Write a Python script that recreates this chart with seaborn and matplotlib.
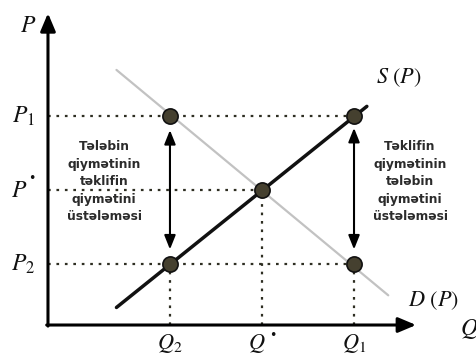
import matplotlib
matplotlib.use("Agg")
import matplotlib.pyplot as plt
import seaborn as sns
import pandas as pd

# ---- data ----
q_levels = {"Q2": 2.85, "Qstar": 5.0, "Q1": 7.15}
p_levels = {"P1": 7.75, "Pstar": 5.0, "P2": 2.25}

supply_q = [1.6, 7.45]
supply_p = [0.65, 8.1]
demand_q = [1.6, 7.95]
demand_p = [9.45, 1.1]

point_q = [2.85, 2.85, 5.0, 7.15, 7.15]
point_p = [7.75, 2.25, 5.0, 7.75, 2.25]

arrow_q = [2.85, 7.15]
arrow_top = [7.22, 7.3]
arrow_bottom = [2.8, 2.8]

left_text = "Tələbin\nqiymətinin\ntəklifin\nqiymətini\nüstələməsi"
right_text = "Təklifin\nqiymətinin\ntələbin\nqiymətini\nüstələməsi"

sns.set_theme(style="white")
plt.rcParams["mathtext.fontset"] = "stix"

fig = plt.figure(figsize=(4.76, 3.56), dpi=100)
ax = fig.add_axes([0, 0, 1, 1])
ax.set_xlim(-1.121, 10.0)
ax.set_ylim(-1.148, 12.04)
ax.axis("off")

dot_color = "#2e2e22"
dot_style = (0, (1.2, 2.6))

# dotted guide lines
Q2, Qs, Q1 = q_levels["Q2"], q_levels["Qstar"], q_levels["Q1"]
P1, Ps, P2 = p_levels["P1"], p_levels["Pstar"], p_levels["P2"]
ax.plot([0, Q1], [P1, P1], ls=dot_style, color=dot_color, lw=1.6)
ax.plot([0, Q1], [P2, P2], ls=dot_style, color=dot_color, lw=1.6)
ax.plot([0, Qs], [Ps, Ps], ls=dot_style, color=dot_color, lw=1.6)
ax.plot([Q2, Q2], [0, P2], ls=dot_style, color=dot_color, lw=1.6)
ax.plot([Qs, Qs], [0, Ps], ls=dot_style, color=dot_color, lw=1.6)
ax.plot([Q1, Q1], [0, P2], ls=dot_style, color=dot_color, lw=1.6)

# demand and supply curves
dem = pd.DataFrame({"q": demand_q, "p": demand_p})
sup = pd.DataFrame({"q": supply_q, "p": supply_p})
sns.lineplot(data=dem, x="q", y="p", ax=ax, color="#c2c2c2", lw=1.6, sort=False)
sns.lineplot(data=sup, x="q", y="p", ax=ax, color="#111111", lw=2.5, sort=False)

# axes with arrows
ax.annotate("", xy=(0, 11.55), xytext=(0, -0.04),
            arrowprops=dict(arrowstyle="-|>,head_length=0.9,head_width=0.38",
                            color="black", lw=2.2, shrinkA=0, shrinkB=0))
ax.annotate("", xy=(8.6, 0), xytext=(-0.03, 0),
            arrowprops=dict(arrowstyle="-|>,head_length=0.9,head_width=0.38",
                            color="black", lw=2.2, shrinkA=0, shrinkB=0))

# double arrows
for q, t, b in zip(arrow_q, arrow_top, arrow_bottom):
    ax.annotate("", xy=(q, t), xytext=(q, b),
                arrowprops=dict(arrowstyle="<|-|>,head_length=0.7,head_width=0.28",
                                color="black", lw=1.5, shrinkA=0, shrinkB=0))

# points
pts = pd.DataFrame({"q": point_q, "p": point_p})
sns.scatterplot(data=pts, x="q", y="p", ax=ax, s=120, color="#45402f",
                edgecolor="#111111", linewidth=1.2, zorder=5)
ax.set_xlabel("")
ax.set_ylabel("")

# labels
lab = dict(fontsize=17, color="#111111", ha="center", va="center")
ax.text(-0.47, 11.1, r"$P$", **lab)
ax.text(-0.58, P1, r"$P_1$", **lab)
ax.text(-0.68, Ps, r"$P$", **lab)
ax.text(-0.38, Ps + 0.42, "•", fontsize=9, color="#111111", ha="center", va="center")
ax.text(-0.58, P2, r"$P_2$", **lab)
qlab = dict(fontsize=16, color="#111111", ha="center", va="baseline")
ax.text(Q2, -0.88, r"$Q_2$", **qlab)
ax.text(Qs - 0.12, -0.88, r"$Q$", **qlab)
ax.text(Qs + 0.26, -0.4, "•", fontsize=9, color="#111111", ha="center", va="center")
ax.text(Q1, -0.88, r"$Q_1$", **qlab)
ax.text(9.63, -0.36, r"$Q$", fontsize=17, color="#111111", ha="left", va="baseline")
ax.text(8.2, 9.15, r"$S\ (P)$", fontsize=16, color="#111111", ha="center", va="center")
ax.text(9.0, 0.89, r"$D\ (P)$", fontsize=16, color="#111111", ha="center", va="center")

body = dict(fontsize=8.8, color="#2b2b2b", ha="center", va="center",
            linespacing=1.45, family="DejaVu Sans", fontweight="bold")
ax.text(1.31, 5.3, left_text, **body)
ax.text(8.46, 5.3, right_text, **body)

fig.savefig("out.png", dpi=100)
